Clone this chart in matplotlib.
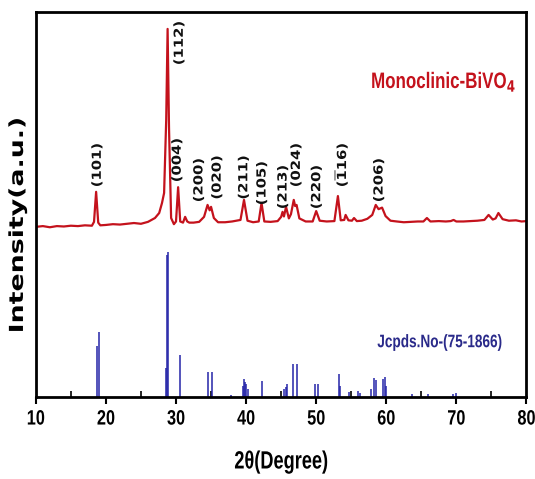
import matplotlib
matplotlib.use("Agg")
import matplotlib.pyplot as plt
from matplotlib.patheffects import AbstractPathEffect
from matplotlib.transforms import Affine2D

exp_2theta = [10.0, 11.0, 12.0, 13.0, 14.0, 15.0, 16.0, 17.0, 18.0, 18.3, 18.6, 18.9, 19.2,
              20.0, 21.0, 22.0, 23.0, 24.0, 25.0, 26.0, 27.0, 27.6, 28.0, 28.3, 28.6, 28.8,
              29.0, 29.3, 29.7, 30.0, 30.3, 30.6, 31.0, 31.3, 31.6, 31.9, 32.5, 33.3, 34.0,
              34.5, 34.8, 35.0, 35.4, 36.0, 37.0, 38.0, 39.2, 39.7, 40.2, 41.0, 41.8, 42.2,
              42.6, 43.5, 44.5, 45.0, 45.2, 45.4, 45.7, 46.1, 46.4, 46.8, 47.0, 47.2, 47.6,
              48.5, 49.5, 50.0, 50.5, 51.5, 52.6, 53.1, 53.5, 54.0, 54.2, 54.6, 55.1, 55.4,
              55.8, 56.5, 57.3, 58.0, 58.5, 58.9, 59.4, 59.9, 60.6, 61.5, 62.5, 63.5, 64.5,
              65.3, 65.8, 66.3, 67.5, 68.5, 69.2, 69.6, 70.0, 71.0, 72.0, 73.0, 74.0, 74.6,
              75.2, 75.6, 76.0, 76.6, 77.5, 78.5, 79.3, 80.0]
exp_int = [44.2, 44.4, 44.1, 44.4, 44.3, 44.5, 44.4, 44.6, 44.5, 45.5, 53.3, 45.3, 44.6,
           44.7, 44.9, 44.8, 45.0, 45.2, 45.0, 45.5, 46.5, 47.8, 50.4, 53.0, 72.0, 95.6,
           70.0, 46.5, 44.9, 45.6, 54.5, 45.6, 45.3, 46.8, 45.6, 45.3, 45.3, 45.5, 46.8,
           49.9, 48.5, 49.4, 46.5, 45.4, 45.4, 45.6, 46.0, 51.2, 45.8, 45.4, 45.6, 50.4,
           45.6, 45.5, 45.7, 46.8, 48.1, 46.9, 49.4, 46.4, 47.5, 51.2, 49.6, 49.9, 46.4,
           45.6, 45.6, 48.3, 45.8, 45.6, 45.7, 52.2, 45.9, 46.0, 47.3, 45.9, 45.8, 46.5,
           45.7, 45.8, 46.3, 47.3, 49.9, 48.8, 49.2, 47.0, 45.8, 45.6, 45.4, 45.5, 45.6,
           45.6, 46.5, 45.6, 45.7, 45.6, 45.7, 46.0, 45.6, 45.6, 45.7, 45.8, 46.0, 47.3,
           46.1, 46.4, 47.8, 46.2, 45.8, 45.9, 45.6, 45.7]

# Reference pattern JCPDS 75-1866 (blue sticks)
ref_2theta = [18.7, 19.0, 28.6, 28.75, 28.9, 30.5, 34.5, 35.2, 37.9, 39.5, 39.7, 39.85,
              40.0, 40.2, 42.3, 45.4, 45.7, 45.9, 46.7, 47.3, 49.9, 50.3, 53.2, 53.4,
              54.7, 55.9, 56.2, 57.8, 58.2, 58.5, 59.5, 59.8, 60.0, 63.6, 66.0, 69.5, 69.9]
ref_int = [13.2, 16.9, 7.5, 37.0, 37.7, 10.9, 6.6, 6.6, 0.5, 3.0, 4.7, 3.8,
           3.5, 2.0, 4.2, 2.0, 2.5, 3.3, 8.6, 8.6, 3.5, 3.5, 6.1, 3.0,
           1.3, 1.5, 1.0, 2.2, 5.0, 4.5, 4.8, 5.3, 3.0, 0.8, 0.9, 0.8, 1.0]

# hkl annotations
hkl_labels = ["(101)", "(112)", "(004)", "(200)", "(020)", "(211)", "(105)", "(213)",
              "(024)", "(220)", r"($\mathbf{\overline{1}}$16)", "(206)"]
hkl_2theta = [18.8, 30.5, 30.2, 33.3, 35.9, 39.7, 42.3, 45.3, 47.2, 50.1, 53.5, 59.0]
hkl_y = [55.1, 86.8, 56.4, 51.2, 51.9, 51.9, 50.4, 49.4, 55.1, 49.4, 55.1, 51.2]

xticks = [10, 20, 30, 40, 50, 60, 70, 80]
xminor = [15, 25, 35, 45, 55, 65, 75]


class Stretch(AbstractPathEffect):
    """Scale glyphs in the text's own frame (sx along, sy across) about the text centre."""
    def __init__(self, sx=1.0, sy=1.0):
        super().__init__((0, 0))
        self.sx = sx
        self.sy = sy

    def draw_path(self, renderer, gc, tpath, affine, rgbFace=None):
        ext = tpath.get_extents()
        cx = 0.5 * (ext.x0 + ext.x1)
        cy = 0.5 * (ext.y0 + ext.y1)
        a = (Affine2D().translate(-cx, -cy).scale(self.sx, self.sy).translate(cx, cy)
             + affine)
        renderer.draw_path(gc, tpath, a, rgbFace)


NARROW = "Liberation Sans"

fig = plt.figure(figsize=(5.35, 4.79), dpi=100)
ax = fig.add_axes([0.067, 0.171, 0.917, 0.804])

ax.plot(exp_2theta, exp_int, color="#c4121c", lw=1.6)
ax.vlines(ref_2theta, 0, ref_int, color="#2424a8", lw=1.1)

for lab, x, y in zip(hkl_labels, hkl_2theta, hkl_y):
    ax.text(x, y, lab, rotation=90, ha="center", va="bottom", fontsize=9.5,
            fontweight="bold", family="DejaVu Sans", color="#111111",
            path_effects=[Stretch(1.12, 0.95)])

ax.text(0.831, 0.818, r"Monoclinic-BiVO$_\mathbf{4}$", transform=ax.transAxes, ha="center",
        va="center", fontsize=12.2, fontweight="bold", family=NARROW, color="#c4121c",
        path_effects=[Stretch(1.0, 1.32)])
ax.text(0.823, 0.143, "Jcpds.No-(75-1866)", transform=ax.transAxes, ha="center",
        va="center", fontsize=9.8, fontweight="bold", family=NARROW, color="#2a2a8a",
        path_effects=[Stretch(1.0, 1.33)])

ax.set_xlim(10, 80)
ax.set_ylim(0, 100)
ax.set_xticks(xticks)
ax.set_xticks(xminor, minor=True)
ax.set_yticks([])
ax.tick_params(axis="x", which="major", direction="out", length=5, width=1.5, pad=5)
ax.tick_params(axis="x", which="minor", direction="in", length=4, width=1.2)
for lab in ax.get_xticklabels():
    lab.set_fontfamily(NARROW)
    lab.set_fontweight("bold")
    lab.set_fontsize(11.7)
    lab.set_path_effects([Stretch(1.0, 1.28)])
for s in ax.spines.values():
    s.set_linewidth(2)

ax.set_xlabel("2θ(Degree)", fontsize=13.1, fontweight="bold", family=NARROW, labelpad=20,
              path_effects=[Stretch(1.0, 1.37)])
fig.text(18 / 535, 1 - 225 / 479, "Intensity(a.u.)", rotation=90, ha="center", va="center",
         fontsize=19.3, fontweight="bold", family="DejaVu Sans",
         path_effects=[Stretch(1.0, 0.72)])

fig.savefig("out.png", dpi=100)
